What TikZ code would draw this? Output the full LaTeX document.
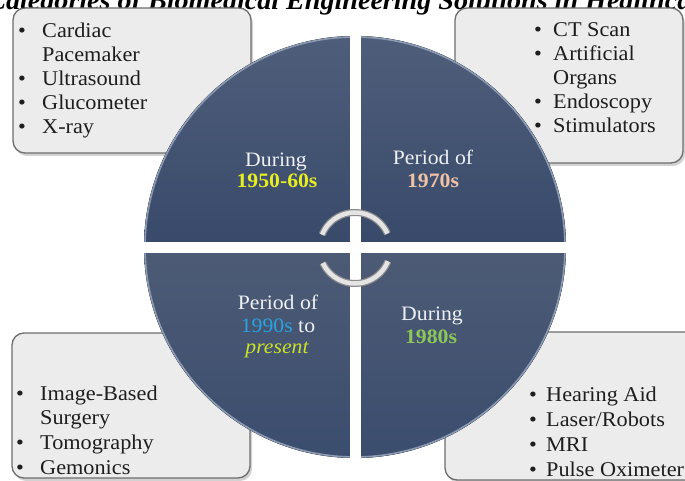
\documentclass[tikz,border=0pt]{standalone}
\usepackage{fontspec}
\setmainfont{Liberation Serif}[FakeStretch=1.06]
\definecolor{boxfill}{HTML}{ECECEC}
\definecolor{boxline}{HTML}{6E6E6E}
\definecolor{txtgray}{HTML}{1E1E1E}
\definecolor{labwhite}{HTML}{EEF0F4}
\definecolor{qtop}{HTML}{4E5E7A}
\definecolor{qbot}{HTML}{39496A}
\definecolor{qtopb}{HTML}{4D5B75}
\definecolor{qbotb}{HTML}{3B4D6E}
\definecolor{rimc}{HTML}{8D9BB2}
\definecolor{yel}{HTML}{E6EE22}
\definecolor{peach}{HTML}{F0C2A6}
\definecolor{cyanb}{HTML}{2AA2DE}
\definecolor{ygreen}{HTML}{CBE228}
\definecolor{grn}{HTML}{8DC65A}
\definecolor{arcout}{HTML}{8C8C8C}
\definecolor{arcin}{HTML}{E4E4E4}
\newcommand{\Bl}[5]{\node[bul] (#1b) at (#2,#4) {\textbullet}; \node[itm] (#1) at (#3,#4) {#5};}
\newcommand{\Cl}[4]{\node[itm] (#1) at (#2,#3) {#4};}
\begin{document}
\begin{tikzpicture}[x=1pt,y=-1pt,
  boxbg/.style={draw=boxline, fill=boxfill, line width=1.3pt, rounded corners=12pt},
  boxshade/.style={fill=black!35, opacity=0.5, rounded corners=12pt},
  itm/.style={anchor=base west, inner sep=0pt, font=\fontsize{21}{24}\selectfont, text=txtgray},
  bul/.style={anchor=base west, inner sep=0pt, font=\fontsize{21}{24}\selectfont, text=txtgray},
  lab/.style={anchor=base, inner sep=0pt, font=\fontsize{20.5}{23}\selectfont, text=labwhite},
  quadtop/.style={top color=qtop, bottom color=qbot},
  quadbot/.style={top color=qtopb, bottom color=qbotb},
  gap/.style={draw=white, line width=11pt},
  cycout/.style={draw=arcout, line width=7pt},
  cycin/.style={draw=arcin, line width=4.5pt}
]
\useasboundingbox (0,0) rectangle (685,481);
\clip (0,0) rectangle (685,481);
\fill[white] (0,0) rectangle (685,481);

% title (cut at the top of the picture)
\node[anchor=base, inner sep=0pt, font=\fontsize{26.5}{30}\selectfont\bfseries\itshape] (title) at (351,10)
  {Categories of Biomedical Engineering Solutions in Healthcare};

% boxes
\path[boxshade] (15,11) rectangle (253,156);
\path[boxbg] (13,8) rectangle (251,153);
\path[boxshade] (457,11) rectangle (685,166);
\path[boxbg] (455,8) rectangle (683,163);
\path[boxshade] (14,336) rectangle (252,481);
\path[boxbg] (12,333) rectangle (250,478);
\path[boxshade] (447,335) rectangle (700,483);
\path[boxbg] (445,332) rectangle (698,480);

% circle quadrants
\coordinate (c) at (355,247);
\fill[quadtop] (355,247) -- (144,247) arc[start angle=180, end angle=270, radius=211] -- cycle;
\fill[quadtop] (355,247) -- (355,36) arc[start angle=270, end angle=360, radius=211] -- cycle;
\fill[quadbot] (355,247) -- (566,247) arc[start angle=0, end angle=90, radius=211] -- cycle;
\fill[quadbot] (355,247) -- (355,458) arc[start angle=90, end angle=180, radius=211] -- cycle;
\draw[rimc, line width=1.6pt] (c) circle[radius=210];
\begin{scope}
  \clip (c) circle[radius=213];
  \draw[gap] (355,30) -- (355,465);
  \draw[gap] (138,247) -- (572,247);
\end{scope}

% cycle arcs
\draw[cycout] (355,248) ++(-24:35.5) arc[start angle=-24, end angle=-158, radius=35.5];
\draw[cycin] (355,248) ++(-24:35.5) arc[start angle=-24, end angle=-158, radius=35.5];
\draw[cycout] (355,248) ++(155:35.5) arc[start angle=155, end angle=22, radius=35.5];
\draw[cycin] (355,248) ++(155:35.5) arc[start angle=155, end angle=22, radius=35.5];

% circle labels
\node[lab] (d1) at (276,167) {During};
\node[lab, text=yel, font=\fontsize{20.5}{23}\selectfont\bfseries] (y1) at (277,188) {1950-60s};
\node[lab] (p1) at (433,165) {Period of};
\node[lab, text=peach, font=\fontsize{20.5}{23}\selectfont\bfseries] (y2) at (433,188) {1970s};
\node[lab] (p2) at (278,309) {Period of};
\node[lab] (y3) at (278,332) {\textcolor{cyanb}{1990s} to};
\node[lab, text=ygreen, font=\fontsize{20.5}{23}\selectfont\itshape] (y4) at (277,353) {present};
\node[lab] (d2) at (432,320) {During};
\node[lab, text=grn, font=\fontsize{20.5}{23}\selectfont\bfseries] (y5) at (431,343) {1980s};

% box texts
\Bl{a1}{18}{42}{38}{Cardiac}
\Cl{a2}{42}{62}{Pacemaker}
\Bl{a3}{18}{42}{86}{Ultrasound}
\Bl{a4}{18}{42}{110}{Glucometer}
\Bl{a5}{18}{42}{134}{X-ray}

\Bl{b1}{534}{553}{37}{CT Scan}
\Bl{b2}{534}{553}{61}{Artificial}
\Cl{b3}{553}{85}{Organs}
\Bl{b4}{534}{553}{109}{Endoscopy}
\Bl{b5}{534}{553}{133}{Stimulators}

\Bl{e1}{16}{40}{400}{Image-Based}
\Cl{e2}{40}{424}{Surgery}
\Bl{e3}{16}{40}{449}{Tomography}
\Bl{e4}{16}{40}{474}{Gemonics}

\Bl{f1}{529}{546}{401}{Hearing Aid}
\Bl{f2}{529}{546}{426}{Laser/Robots}
\Bl{f3}{529}{546}{451}{MRI}
\Bl{f4}{529}{546}{476}{Pulse Oximeter}
\end{tikzpicture}
\end{document}
